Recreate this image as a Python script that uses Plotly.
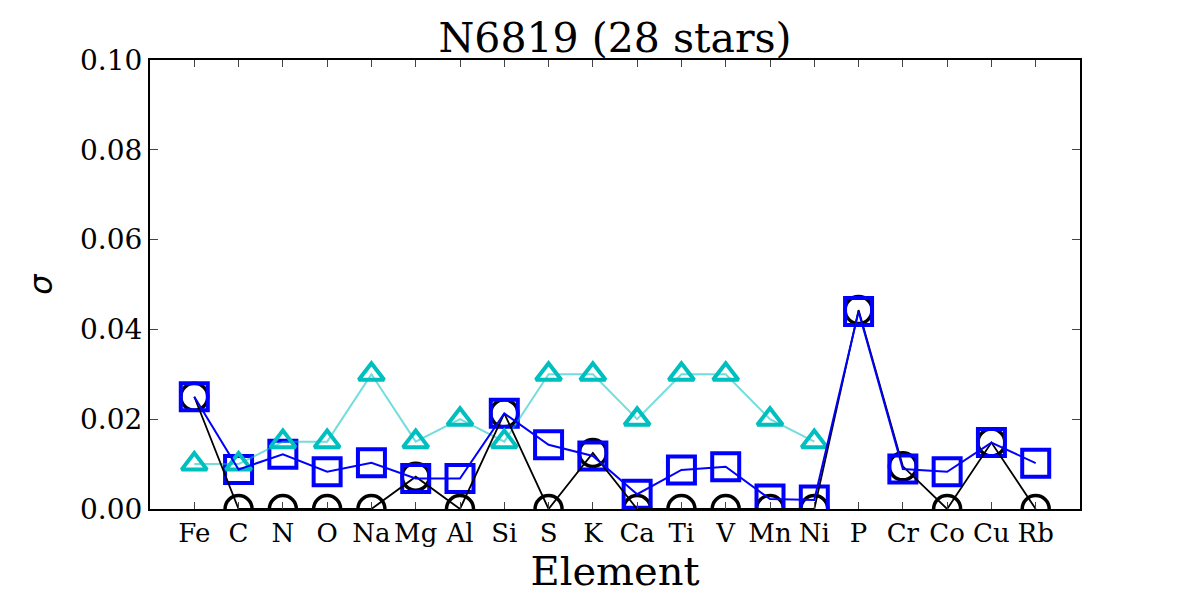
import plotly.graph_objects as go

elements = ["Fe", "C", "N", "O", "Na", "Mg", "Al", "Si", "S", "K", "Ca", "Ti", "V", "Mn", "Ni", "P", "Cr", "Co", "Cu", "Rb"]
sigma_black = [0.025, 0.0, 0.0, 0.0, 0.0, 0.0072, 0.0, 0.0213, 0.0, 0.0125, 0.0, 0.0, 0.0, 0.0, 0.0, 0.0443, 0.0095, 0.0, 0.0148, 0.0]
sigma_blue = [0.025, 0.0088, 0.0122, 0.0083, 0.0103, 0.0068, 0.0068, 0.0213, 0.0143, 0.0118, 0.0033, 0.0087, 0.0094, 0.0022, 0.002, 0.044, 0.0089, 0.0083, 0.0148, 0.0102]
tri_elements = elements[:15]
sigma_cyan = [0.01, 0.01, 0.015, 0.015, 0.03, 0.015, 0.02, 0.015, 0.03, 0.03, 0.02, 0.03, 0.03, 0.02, 0.015]

FONT = "DejaVu Serif"
fig = go.Figure()

xb = list(range(len(elements)))
xc = list(range(len(tri_elements)))

fig.add_trace(go.Scatter(x=xb, y=sigma_black, mode="markers",
                         marker=dict(symbol="circle-open", size=27, color="black", line=dict(width=3.5, color="black")),
                         showlegend=False))
fig.add_trace(go.Scatter(x=xb, y=sigma_blue, mode="markers",
                         marker=dict(symbol="square-open", size=27, color="#0000ff", line=dict(width=4, color="#0000ff")),
                         showlegend=False))
fig.add_trace(go.Scatter(x=xc, y=sigma_cyan, mode="markers",
                         marker=dict(symbol="triangle-up-open", size=22, color="#00bfbf", line=dict(width=4, color="#00bfbf")),
                         showlegend=False))
fig.add_trace(go.Scatter(x=xc, y=sigma_cyan, mode="lines",
                         line=dict(color="rgba(0,191,191,0.55)", width=2), showlegend=False))
fig.add_trace(go.Scatter(x=xb, y=sigma_black, mode="lines",
                         line=dict(color="black", width=1.8), showlegend=False))
fig.add_trace(go.Scatter(x=xb, y=sigma_blue, mode="lines",
                         line=dict(color="#0000ff", width=2), showlegend=False))

fig.update_layout(
    width=1200, height=600,
    margin=dict(l=150, r=120, t=60, b=91),
    paper_bgcolor="white", plot_bgcolor="white",
    font=dict(family=FONT, color="black"),
    title=dict(text="N6819 (28 stars)", x=0.5125, xanchor="center", y=0.937, yanchor="middle",
               font=dict(family=FONT, size=41, color="black")),
    xaxis=dict(range=[-1, 20], tickmode="array", tickvals=xb, ticktext=elements,
               tickangle=0, automargin=False,
               ticks="inside", ticklen=7, tickwidth=1, tickcolor="#444",
               showline=True, linecolor="black", linewidth=2, mirror="allticks",
               showgrid=False, zeroline=False, tickfont=dict(size=26, family=FONT),
               title=dict(text="Element", font=dict(size=40, family=FONT), standoff=6)),
    yaxis=dict(range=[0, 0.1], tickmode="array", tickvals=[0, 0.02, 0.04, 0.06, 0.08, 0.1],
               ticktext=["0.00", "0.02", "0.04", "0.06", "0.08", "0.10"],
               automargin=False,
               ticks="inside", ticklen=8, tickwidth=1, tickcolor="#444",
               showline=True, linecolor="black", linewidth=2, mirror="allticks",
               showgrid=False, zeroline=False, tickfont=dict(size=28, family=FONT),
               title=dict(text="<i>σ</i>", font=dict(size=32, family="DejaVu Sans"), standoff=18)),
)

fig.write_html("out.html")
